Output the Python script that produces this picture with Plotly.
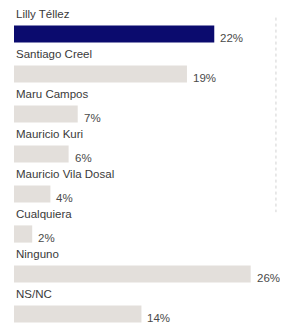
import plotly.graph_objects as go

categories = ["Lilly Téllez", "Santiago Creel", "Maru Campos", "Mauricio Kuri",
              "Mauricio Vila Dosal", "Cualquiera", "Ninguno", "NS/NC"]
values = [22, 19, 7, 6, 4, 2, 26, 14]
labels = ["22%", "19%", "7%", "6%", "4%", "2%", "26%", "14%"]

highlight = "#0b0b6e"
other = "#e3dfdb"
colors = [highlight] + [other] * (len(categories) - 1)
pos = list(range(len(categories)))

font_family = "Liberation Sans Narrow, Arial Narrow, Liberation Sans, Arial, sans-serif"

fig = go.Figure(go.Bar(
    x=values, y=pos, orientation="h",
    marker=dict(color=colors, line=dict(width=0)),
    width=0.43, hoverinfo="skip",
))

annotations = []
for i, (c, v, l) in enumerate(zip(categories, values, labels)):
    annotations.append(dict(x=0, y=i, text=c, xref="x", yref="y", xanchor="left",
                            yanchor="middle", yshift=20, showarrow=False,
                            font=dict(family=font_family, size=11.5, color="#3a3a3a")))
    annotations.append(dict(x=v, y=i, text=l, xref="x", yref="y", xanchor="left",
                            yanchor="middle", xshift=4, yshift=-4, showarrow=False,
                            font=dict(family=font_family, size=11.5, color="#4a4a4a")))

fig.update_layout(
    width=280, height=319,
    margin=dict(l=6, r=0, t=0, b=0),
    paper_bgcolor="white", plot_bgcolor="white",
    showlegend=False,
    xaxis=dict(range=[0, 30.1], visible=False, fixedrange=True),
    yaxis=dict(range=[7.325, -0.650], visible=False, fixedrange=True),
    annotations=annotations,
    shapes=[dict(type="line", xref="paper", yref="paper", x0=0.956, x1=0.956,
                 y0=0.97, y1=0.36, line=dict(color="#d2d2d2", width=1, dash="dot"))],
)

fig.write_html("out.html")
